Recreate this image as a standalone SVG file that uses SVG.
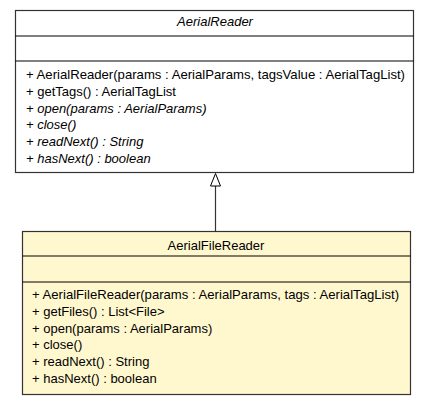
<svg xmlns="http://www.w3.org/2000/svg" width="432" height="405" viewBox="0 0 432 405">
<style>
text{font-family:"Liberation Sans",Arial,sans-serif;font-size:13px;fill:#000}
.i{font-style:italic}
.box{stroke:#333;stroke-width:1.2}
.div{stroke:#000;stroke-width:1}
.c{text-anchor:middle}
</style>
<rect width="432" height="405" fill="#fff"/>
<g id="AerialReader">
<rect class="box" x="15.5" y="10.5" width="398" height="162" fill="#fff"/>
<line class="div" x1="15.5" y1="36" x2="413.5" y2="36"/>
<line class="div" x1="15.5" y1="61" x2="413.5" y2="61"/>
<text class="i c" x="215" y="25.5">AerialReader</text>
<text x="26" y="78.5" textLength="379" lengthAdjust="spacingAndGlyphs">+ AerialReader(params : AerialParams, tagsValue : AerialTagList)</text>
<text x="26" y="95.5">+ getTags() : AerialTagList</text>
<text class="i" x="26" y="112.5">+ open(params : AerialParams)</text>
<text class="i" x="26" y="129">+ close()</text>
<text class="i" x="26" y="146">+ readNext() : String</text>
<text class="i" x="26" y="162.5">+ hasNext() : boolean</text>
</g>
<g id="AerialFileReader">
<rect class="box" x="22.5" y="231.5" width="388" height="163" fill="#fff8cf"/>
<line class="div" x1="22.5" y1="256" x2="410.5" y2="256"/>
<line class="div" x1="22.5" y1="282" x2="410.5" y2="282"/>
<text class="c" x="216" y="249.5">AerialFileReader</text>
<text x="32" y="298.5" textLength="367" lengthAdjust="spacingAndGlyphs">+ AerialFileReader(params : AerialParams, tags : AerialTagList)</text>
<text x="32" y="315.5">+ getFiles() : List&lt;File&gt;</text>
<text x="32" y="332.5">+ open(params : AerialParams)</text>
<text x="32" y="349">+ close()</text>
<text x="32" y="365.5">+ readNext() : String</text>
<text x="32" y="382.5">+ hasNext() : boolean</text>
</g>
<g id="connectors">
<line x1="215.5" y1="186" x2="215.5" y2="231" stroke="#333" stroke-width="1.2"/>
<polygon points="215.5,173.5 210.5,186 220.5,186" fill="#fff" stroke="#000" stroke-width="1"/>
</g>
</svg>
